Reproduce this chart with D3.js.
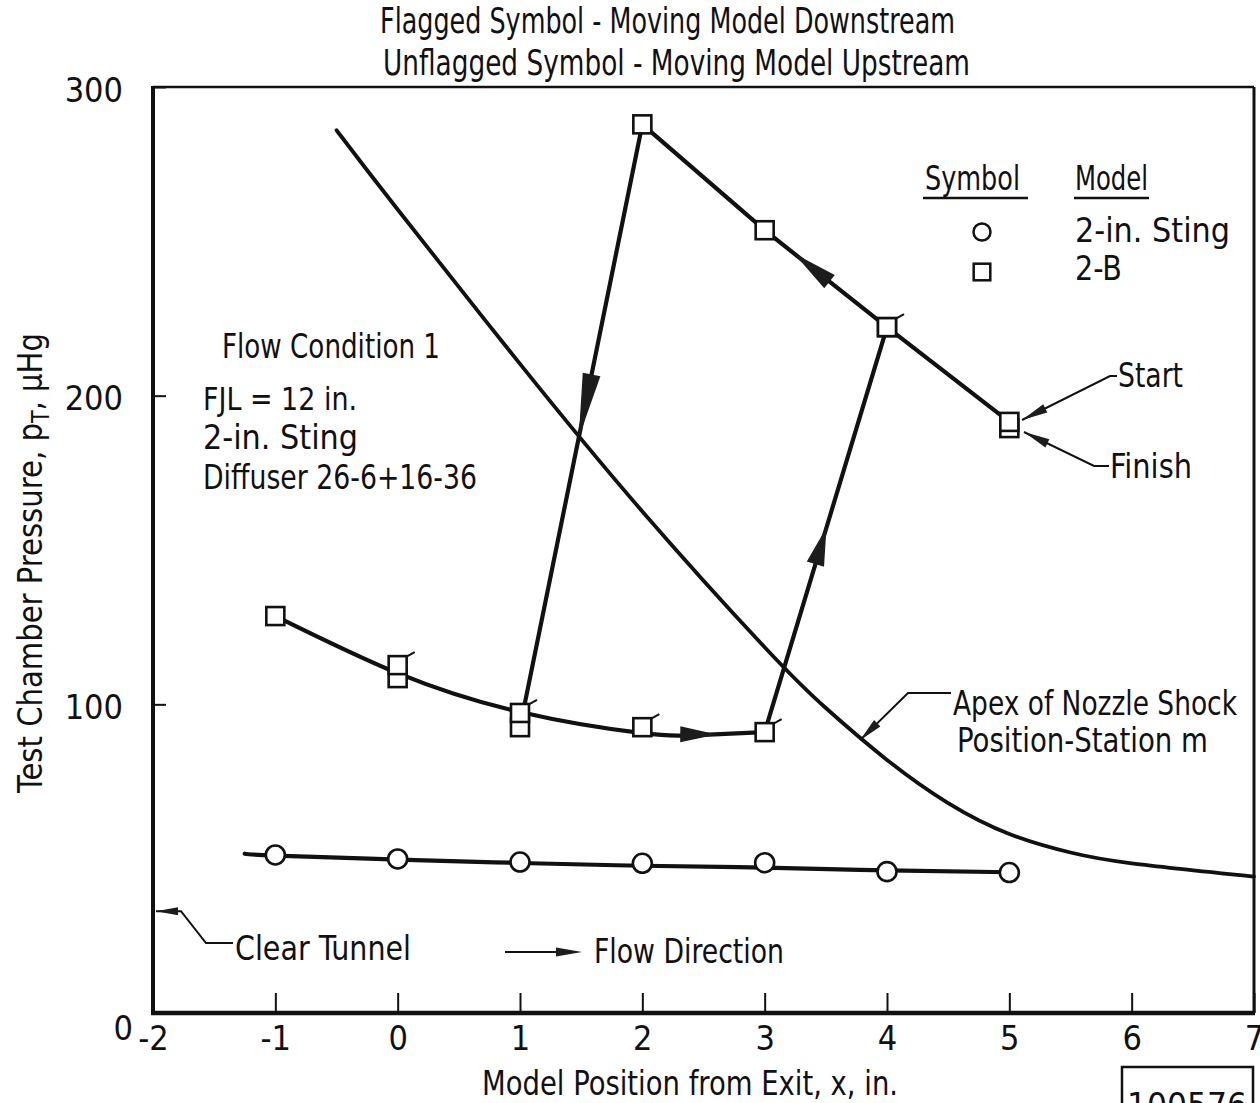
<!DOCTYPE html>
<html><head><meta charset="utf-8">
<script src="https://cdn.jsdelivr.net/npm/d3@7"></script>
<style>
html,body{margin:0;padding:0;background:#fff;}
svg{display:block;}
text{font-family:"Liberation Sans Narrow","DejaVu Sans Condensed","Arial Narrow",sans-serif;fill:#111;}
</style></head><body>
<svg id="chart" width="1260" height="1103"></svg>
<script>
// ---- data -------------------------------------------------------------
const xTicks = [-2, -1, 0, 1, 2, 3, 4, 5, 6, 7];
const yTicks = [0, 100, 200, 300];

// 2-in. sting alone (circles) and its faired line
const stingX = [-1, 0, 1, 2, 3, 4, 5];
const stingP = [51.2, 49.9, 48.9, 48.5, 48.7, 45.8, 45.5];
const stingFairX = [-1.25, -1, 0, 1, 2, 3, 4, 5];
const stingFairP = [51.6, 51.0, 49.7, 48.6, 47.7, 47.1, 46.2, 45.6];

// model 2-B moving upstream (unflagged), in run order from Start
const upX = [5, 4, 3, 2, 1, 0, -1];
const upP = [191.5, 222.2, 253.6, 287.9, 92.6, 108.5, 128.6];
// model 2-B moving downstream (flagged), ending at Finish
const downX = [0, 1, 2, 3, 4, 5];
const downP = [112.7, 97.2, 92.6, 91.0, 222.2, 189.5];

// faired curve along the low-pressure branch
const lowFairX = [-1, 0, 1, 2, 2.5, 3];
const lowFairP = [128.6, 110.1, 97.5, 90.7, 90.1, 91.0];

// apex of nozzle shock, station m
const shockX = [-0.5, 0, 1, 2, 3, 3.5, 4, 4.5, 5, 5.5, 6, 7];
const shockP = [286.0, 260.3, 210.3, 162.5, 118.5, 98.8, 82.0, 68.0, 58.0, 52.0, 48.5, 44.2];

// clear-tunnel pressure
const clearTunnelP = 33;

// ---- layout -----------------------------------------------------------
const W = 1260, H = 1103;
const margin = {top: 87, right: 6, bottom: 90, left: 153};
const ink = "#111";

const x = d3.scaleLinear().domain([-2, 7]).range([margin.left, W - margin.right]);
const y = d3.scaleLinear().domain([0, 300]).range([H - margin.bottom, margin.top]);

const svg = d3.select("#chart");
const pts = (xs, ps) => xs.map((v, i) => [v, ps[i]]);
const px = d => [x(d[0]), y(d[1])];

const straight = d3.line().x(d => x(d[0])).y(d => y(d[1]));
const faired = d3.line().x(d => x(d[0])).y(d => y(d[1])).curve(d3.curveNatural);

function txt(g, s, tx, ty, len, size = 34, anchor = "start") {
  const t = g.append("text").attr("x", tx).attr("y", ty)
    .attr("font-size", size).attr("text-anchor", anchor).text(s);
  if (len) t.attr("textLength", len).attr("lengthAdjust", "spacingAndGlyphs");
  return t;
}

function arrowHead(g, tip, base, hw) {
  const dx = tip[0] - base[0], dy = tip[1] - base[1], L = Math.hypot(dx, dy);
  const nx = -dy / L, ny = dx / L;
  g.append("path")
    .attr("d", `M${tip[0]},${tip[1]}L${base[0] + nx * hw},${base[1] + ny * hw}L${base[0] - nx * hw},${base[1] - ny * hw}Z`)
    .attr("fill", "#1c1c1c");
}
// point at fraction t between two data points, in pixels
function along(a, b, t) {
  const A = px(a), B = px(b);
  return [A[0] + (B[0] - A[0]) * t, A[1] + (B[1] - A[1]) * t];
}
// leader line ending in a small arrowhead at its last vertex
function leader(g, vertices, headLen = 26, hw = 4.5) {
  g.append("path").attr("d", d3.line()(vertices))
    .attr("fill", "none").attr("stroke", ink).attr("stroke-width", 2);
  const tip = vertices[vertices.length - 1], prev = vertices[vertices.length - 2];
  const dx = prev[0] - tip[0], dy = prev[1] - tip[1], L = Math.hypot(dx, dy);
  arrowHead(g, tip, [tip[0] + dx / L * headLen, tip[1] + dy / L * headLen], hw);
}

// ---- axes and frame ---------------------------------------------------
const xAxis = d3.axisBottom(x).tickValues(xTicks).tickSize(-20).tickSizeOuter(0)
  .tickPadding(13).tickFormat(d => String(d));
svg.append("g").attr("transform", `translate(0,${y(0)})`).call(xAxis)
  .call(g => g.select(".domain").remove())
  .call(g => g.selectAll("line").attr("stroke", ink).attr("stroke-width", 2))
  .call(g => g.selectAll("text").attr("font-size", 34).attr("fill", ink));

const yAxis = d3.axisLeft(y).tickValues(yTicks).tickSize(-13).tickSizeOuter(0)
  .tickPadding(30).tickFormat(d => String(d));
svg.append("g").attr("transform", `translate(${x(-2)},0)`).call(yAxis)
  .call(g => g.select(".domain").remove())
  .call(g => g.selectAll("line").attr("stroke", ink).attr("stroke-width", 2))
  .call(g => g.selectAll("text").attr("font-size", 34).attr("fill", ink).attr("dy", "0.42em"))
  .call(g => g.selectAll(".tick").filter(d => d === 0).select("text").attr("x", -20).attr("dy", "0.78em"));

const frame = svg.append("g").attr("stroke", ink).attr("fill", "none");
frame.append("line").attr("x1", x(-2)).attr("x2", x(7)).attr("y1", y(300)).attr("y2", y(300)).attr("stroke-width", 2.5);
frame.append("line").attr("x1", x(7)).attr("x2", x(7)).attr("y1", y(300)).attr("y2", y(0)).attr("stroke-width", 3);
frame.append("line").attr("x1", x(-2)).attr("x2", x(-2)).attr("y1", y(300) - 1).attr("y2", y(0) + 2).attr("stroke-width", 4);
frame.append("line").attr("x1", x(-2) - 2).attr("x2", x(7) + 1).attr("y1", y(0)).attr("y2", y(0)).attr("stroke-width", 4.5);

// ---- titles -----------------------------------------------------------
txt(svg, "Flagged Symbol - Moving Model Downstream", 380, 33, 575, 35);
txt(svg, "Unflagged Symbol - Moving Model Upstream", 383, 75, 587, 35);
txt(svg, "Model Position from Exit,  x,  in.", 482, 1095, 416, 34);

const yl = svg.append("g").attr("transform", "translate(42,563) rotate(-90)");
const ylt = yl.append("text").attr("font-size", 34).attr("text-anchor", "middle");
ylt.append("tspan").text("Test Chamber Pressure, p");
ylt.append("tspan").attr("font-size", 24).attr("dy", 7).text("T");
ylt.append("tspan").attr("dy", -7).text(",  μHg");
const ylw = ylt.node().getComputedTextLength();
ylt.attr("transform", `scale(${460 / ylw},1)`);

// ---- curves -----------------------------------------------------------
const curves = svg.append("g").attr("fill", "none").attr("stroke", ink)
  .attr("stroke-linejoin", "round").attr("stroke-linecap", "round");

curves.append("path").attr("d", faired(pts(shockX, shockP))).attr("stroke-width", 3.8);
curves.append("path").attr("d", faired(pts(stingFairX, stingFairP))).attr("stroke-width", 4.2);
curves.append("path").attr("d", faired(pts(lowFairX, lowFairP))).attr("stroke-width", 4.2);

// straight legs of the 2-B run
const up = pts(upX, upP), down = pts(downX, downP);
curves.append("path").attr("d", straight(up.slice(0, 5))).attr("stroke-width", 4.2);   // 5 → 4 → 3 → 2 → 1
curves.append("path").attr("d", straight(down.slice(3, 5))).attr("stroke-width", 4.2); // 3 → 4

// ---- symbols ----------------------------------------------------------
const sym = svg.append("g").attr("stroke", ink).attr("stroke-width", 2.6).attr("fill", "#fff");
sym.selectAll("circle.sting").data(pts(stingX, stingP)).join("circle")
  .attr("class", "sting").attr("cx", d => x(d[0])).attr("cy", d => y(d[1])).attr("r", 9.5);

const half = 9;
sym.selectAll("rect.up").data(up).join("rect").attr("class", "up")
  .attr("x", d => x(d[0]) - half).attr("y", d => y(d[1]) - half)
  .attr("width", 2 * half).attr("height", 2 * half);
sym.selectAll("rect.down").data(down.slice(0, 5)).join("rect").attr("class", "down")
  .attr("x", d => x(d[0]) - half).attr("y", d => y(d[1]) - half)
  .attr("width", 2 * half).attr("height", 2 * half);
// the Finish point sits just under the Start point
sym.insert("rect", "rect.up").datum(down[5])
  .attr("x", d => x(d[0]) - half).attr("y", d => y(d[1]) - half)
  .attr("width", 2 * half).attr("height", 2 * half);
// flags on the downstream points
svg.append("g").attr("stroke", ink).attr("stroke-width", 2)
  .selectAll("line").data(down.slice(0, 5)).join("line")
  .attr("x1", d => x(d[0]) + half - 1).attr("y1", d => y(d[1]) - half + 1)
  .attr("x2", d => x(d[0]) + half + 8).attr("y2", d => y(d[1]) - half - 4);

// ---- direction arrows on the run --------------------------------------
const heads = svg.append("g");
// 2 → 1 (down)
arrowHead(heads, along(up[3], up[4], 0.52), along(up[3], up[4], 0.415), 9);
// 3 → 4 (up)
arrowHead(heads, along(down[3], down[4], 0.505), along(down[3], down[4], 0.415), 9);
// 4 → 3 (upstream along top)
arrowHead(heads, along(up[1], up[2], 0.76), along(up[1], up[2], 0.47), 8.5);
// downstream along low branch
arrowHead(heads, px([2.61, 90.2]), px([2.31, 90.3]), 8);

// ---- legend -----------------------------------------------------------
const lg = svg.append("g");
txt(lg, "Symbol", 925, 190, 95);
txt(lg, "Model", 1075, 190, 73);
lg.append("line").attr("x1", 923).attr("x2", 1028).attr("y1", 198).attr("y2", 198).attr("stroke", ink).attr("stroke-width", 2.5);
lg.append("line").attr("x1", 1074).attr("x2", 1149).attr("y1", 198).attr("y2", 198).attr("stroke", ink).attr("stroke-width", 2.5);
lg.append("circle").attr("cx", 982).attr("cy", 232).attr("r", 8.5)
  .attr("fill", "#fff").attr("stroke", ink).attr("stroke-width", 2.5);
lg.append("rect").attr("x", 982 - 8.3).attr("y", 272 - 8.3).attr("width", 16.6).attr("height", 16.6)
  .attr("fill", "#fff").attr("stroke", ink).attr("stroke-width", 2.5);
txt(lg, "2-in.  Sting", 1075, 242, 155);
txt(lg, "2-B", 1075, 280, 47);

// ---- notes and call-outs ----------------------------------------------
const notes = svg.append("g");
txt(notes, "Flow Condition 1", 222, 358, 218);
txt(notes, "FJL = 12 in.", 203, 410, 154, 32);
txt(notes, "2-in.  Sting", 203, 449, 155, 33);
txt(notes, "Diffuser 26-6+16-36", 203, 489, 274, 33);

txt(notes, "Start", 1118, 387, 65);
leader(notes, [[1117, 376], [1110, 376], [1022, 420]]);
txt(notes, "Finish", 1110, 478, 82);
leader(notes, [[1109, 466], [1094, 466], [1024, 432]]);

txt(notes, "Apex of Nozzle Shock", 953, 715, 284);
txt(notes, "Position-Station m", 957, 752, 251);
leader(notes, [[951, 693], [908, 693], px([3.78, 88.4])], 24, 4.5);

txt(notes, "Clear Tunnel", 235, 960, 176);
leader(notes, [[233, 943], [206, 943], [181, y(clearTunnelP)], [x(-2) + 3, y(clearTunnelP)]], 22, 4);

notes.append("line").attr("x1", 505).attr("x2", 560).attr("y1", 952).attr("y2", 952)
  .attr("stroke", ink).attr("stroke-width", 1.8);
arrowHead(notes, [582, 952], [556, 952], 4.5);
txt(notes, "Flow Direction", 594, 963, 190);

// figure number box
notes.append("rect").attr("x", 1122).attr("y", 1067).attr("width", 131).attr("height", 60)
  .attr("fill", "none").attr("stroke", ink).attr("stroke-width", 2.5);
txt(notes, "100576", 1127, 1117, 120);
</script></body></html>
